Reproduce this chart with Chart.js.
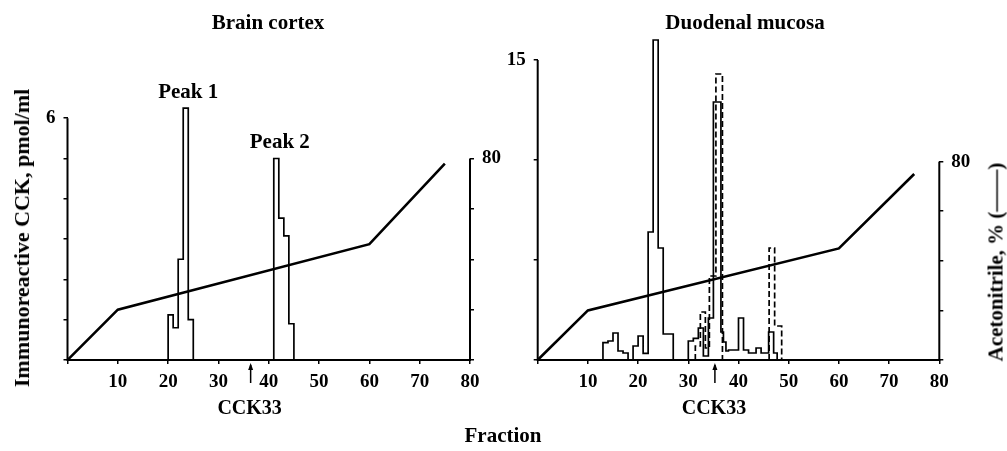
<!DOCTYPE html>
<html><head><meta charset="utf-8">
<script src="https://cdn.jsdelivr.net/npm/chart.js@4.4.1/dist/chart.umd.min.js"></script>
<style>
html,body{margin:0;padding:0;background:#fff;}
#wrap{position:relative;width:1007px;height:451px;overflow:hidden;background:#fff;}
canvas{position:absolute;top:0;}
.t{position:absolute;font-family:'Liberation Serif','Times New Roman',serif;font-weight:bold;color:#000;white-space:nowrap;transform:translate(-50%,-50%);line-height:1;font-size:21px;}
.r{transform:translate(-50%,-50%) rotate(-90deg);}
</style></head><body>
<div id="wrap">
<canvas id="c1" width="510" height="451" style="left:0"></canvas>
<canvas id="c2" width="507" height="451" style="left:500px"></canvas>
<div class="t" style="left:268px;top:22px;">Brain cortex</div>
<div class="t" style="left:745px;top:22px;">Duodenal mucosa</div>
<div class="t" style="left:503px;top:435px;">Fraction</div>
<div class="t r" style="left:22px;top:238px;font-size:22px;">Immunoreactive CCK, pmol/ml</div>
<div class="t r" style="left:996px;top:262px;font-size:21px;">Acetonitrile, % (——)</div>
</div>
<script>
// ---- data ----
const gradientFractions = [0, 10, 60, 75];
const brainAcetonitrile = [0, 20, 46, 78];
const duodenalAcetonitrile = [0, 20, 45, 75];

// bin edges (fractions) and CCK values (pmol/ml)
const brainPeak1Edges = [20, 21, 22, 23, 24, 25];
const brainPeak1Values = [1.12, 0.8, 2.5, 6.25, 1.0];
const brainPeak2Edges = [41, 42, 43, 44, 45];
const brainPeak2Values = [5.0, 3.52, 3.08, 0.9];

const duoSolidEdgesA = [13, 14, 15, 16, 17, 18, 19, 20, 21, 22, 23, 24, 25, 26, 27];
const duoSolidValuesA = [0.87, 0.95, 1.35, 0.45, 0.35, 0, 0.7, 1.2, 0.33, 6.4, 16.0, 5.6, 1.3, 1.3];
const duoSolidEdgesB = [30, 31, 32, 33, 34, 35, 36.5, 37, 37.5, 38, 40, 41, 42, 43.5, 44.5, 46, 47, 47.7];
const duoSolidValuesB = [0.95, 1.08, 1.6, 0.2, 2.1, 12.9, 1.4, 0.9, 0.45, 0.5, 2.1, 0.5, 0.35, 0.6, 0.35, 1.4, 0.35];
const duoDashedEdgesA = [31.4, 32.4, 33.4, 34.2, 35.5, 36.8];
const duoDashedValuesA = [0.7, 2.4, 0.6, 4.2, 14.3];
const duoDashedEdgesB = [46.1, 47.2, 48.6];
const duoDashedValuesB = [5.6, 1.7];

const cck33Fractions = [36.4, 35.3];
const peakLabels = ['Peak 1', 'Peak 2'];
const peakLabelX = [24, 42.2];
const peakLabelY = [6.25, 5.0];

const FONT = "'Liberation Serif', 'Times New Roman', serif";
const tickFont = {family: FONT, weight: 'bold', size: 19};

function steps(edges, values) {
  const pts = [{x: edges[0], y: 0}];
  values.forEach((v, i) => pts.push({x: edges[i], y: v}));
  pts.push({x: edges[edges.length - 1], y: 0});
  return pts;
}
function hist(edges, values, dashed) {
  return {data: steps(edges, values), stepped: true, borderColor: '#000', borderWidth: 1.7,
    borderDash: dashed ? [6, 3] : [], pointRadius: 0, fill: false, yAxisID: 'y'};
}
function gradient(vals) {
  return {data: gradientFractions.map((x, i) => ({x: x, y: vals[i]})), borderColor: '#000',
    borderWidth: 2.6, pointRadius: 0, fill: false, tension: 0, yAxisID: 'y2'};
}

const annotPlugin = {
  id: 'annot',
  afterDraw(chart, args, o) {
    const {ctx, chartArea: a, scales: {x, y, y2}} = chart;
    ctx.save();
    ctx.strokeStyle = '#000'; ctx.fillStyle = '#000'; ctx.lineWidth = 2; ctx.lineCap = 'butt';
    ctx.beginPath(); ctx.moveTo(a.left, y.getPixelForValue(0) + 1); ctx.lineTo(a.left, y.getPixelForValue(o.yTop)); ctx.stroke();
    ctx.beginPath(); ctx.moveTo(a.right, y2.getPixelForValue(0) + 1); ctx.lineTo(a.right, y2.getPixelForValue(80)); ctx.stroke();
    const ax = x.getPixelForValue(o.arrowX), b = a.bottom;
    ctx.lineWidth = 1.5;
    ctx.beginPath(); ctx.moveTo(ax, b + 5); ctx.lineTo(ax, b + 23); ctx.stroke();
    ctx.beginPath(); ctx.moveTo(ax - 2.5, b + 10); ctx.lineTo(ax, b + 3); ctx.lineTo(ax + 2.5, b + 10); ctx.closePath(); ctx.fill();
    ctx.font = 'bold 20px ' + FONT; ctx.textAlign = 'center'; ctx.textBaseline = 'middle';
    ctx.fillText('CCK33', ax - 1, b + 49);
    ctx.font = 'bold 21px ' + FONT;
    (o.peaks || []).forEach(p => ctx.fillText(p.text, x.getPixelForValue(p.x), y.getPixelForValue(p.y) - 16));
    ctx.restore();
  }
};

function makeChart(id, cfg) {
  new Chart(document.getElementById(id), {
    type: 'line',
    data: {datasets: cfg.datasets},
    options: {
      responsive: false, animation: false, events: [],
      layout: {padding: {top: cfg.top, left: 0, right: 0, bottom: 0}},
      plugins: {legend: {display: false}, tooltip: {enabled: false},
        annot: {yTop: cfg.yLabel, arrowX: cfg.arrowX, peaks: cfg.peaks}},
      scales: {
        x: {type: 'linear', min: 0, max: 80, afterFit: s => { s.height = 91; },
          ticks: {stepSize: 10, autoSkip: false, maxRotation: 0, color: '#000', font: tickFont, padding: 7,
            callback: v => v === 0 ? '' : String(v)},
          grid: {drawOnChartArea: false, drawTicks: true, tickLength: 4, color: '#000', lineWidth: 1.5},
          border: {display: true, color: '#000', width: 2}},
        y: {type: 'linear', position: 'left', min: 0, max: cfg.yMax, afterFit: s => { s.width = cfg.leftW; },
          ticks: {stepSize: cfg.yStep, includeBounds: false, color: '#000', font: tickFont, padding: 8,
            callback: v => v === cfg.yLabel ? String(v) : ''},
          grid: {drawOnChartArea: false, drawTicks: true, tickLength: 4, color: '#000', lineWidth: 1.5},
          border: {display: false}},
        y2: {type: 'linear', position: 'right', min: 0, max: cfg.y2Max, afterFit: s => { s.width = cfg.rightW; },
          ticks: {stepSize: 20, includeBounds: false, color: '#000', font: tickFont, padding: 8,
            callback: v => v === 80 ? '80' : ''},
          grid: {drawOnChartArea: false, drawTicks: true, tickLength: 4, lineWidth: 1.5,
            color: c => (c.tick && c.tick.value <= 80) ? '#000' : 'rgba(0,0,0,0)'},
          border: {display: false}}
      }
    },
    plugins: [annotPlugin]
  });
}

makeChart('c1', {
  top: 90, leftW: 67.5, rightW: 40, yMax: 6.7, yStep: 1, yLabel: 6, y2Max: 107.2,
  arrowX: cck33Fractions[0],
  peaks: peakLabels.map((t, i) => ({text: t, x: peakLabelX[i], y: peakLabelY[i]})),
  datasets: [hist(brainPeak1Edges, brainPeak1Values, false), hist(brainPeak2Edges, brainPeak2Values, false),
    gradient(brainAcetonitrile)]
});
makeChart('c2', {
  top: 30, leftW: 37.7, rightW: 67.7, yMax: 16.5, yStep: 5, yLabel: 15, y2Max: 133.1,
  arrowX: cck33Fractions[1], peaks: [],
  datasets: [hist(duoSolidEdgesA, duoSolidValuesA, false), hist(duoSolidEdgesB, duoSolidValuesB, false),
    hist(duoDashedEdgesA, duoDashedValuesA, true), hist(duoDashedEdgesB, duoDashedValuesB, true),
    gradient(duodenalAcetonitrile)]
});
</script>
</body></html>
